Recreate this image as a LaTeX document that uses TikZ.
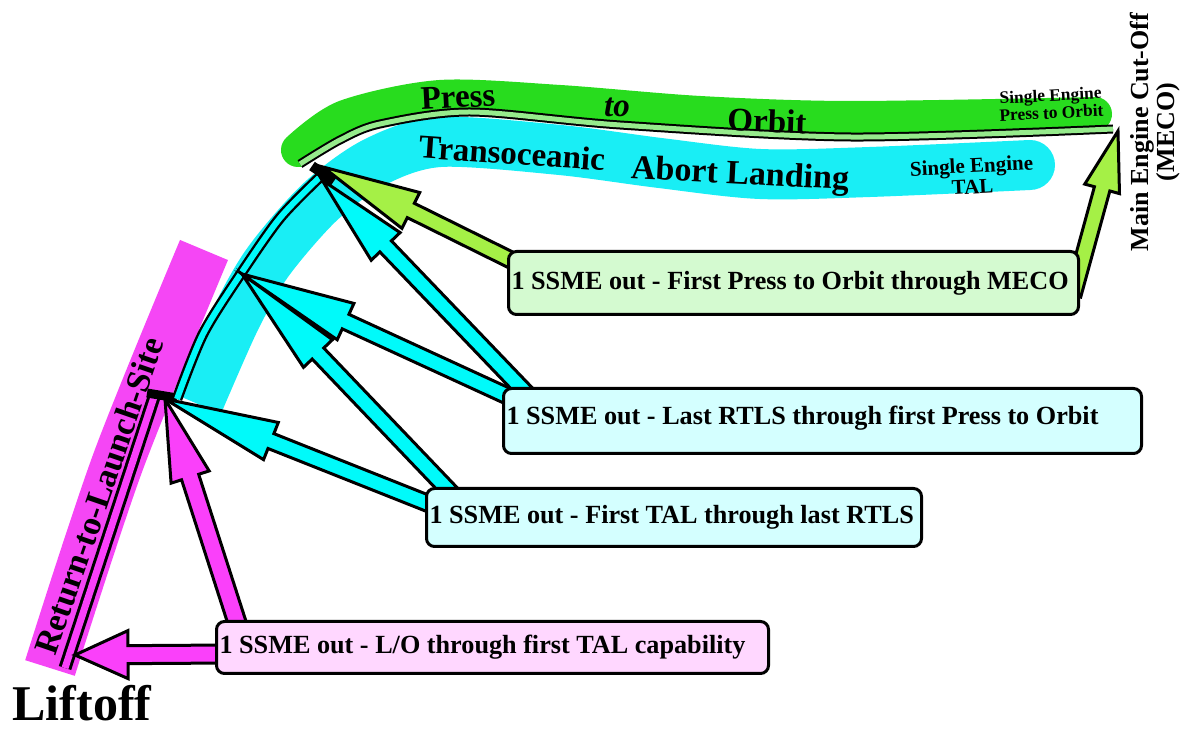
\documentclass[tikz,border=0pt]{standalone}
\usepackage{fontspec}
\setmainfont{Liberation Serif}
\usetikzlibrary{calc}
\pgfdeclarelayer{bg}
\pgfdeclarelayer{mid}
\pgfsetlayers{bg,mid,main}
\definecolor{magband}{RGB}{245,70,245}
\definecolor{magarrow}{RGB}{250,64,250}
\definecolor{cyanband}{RGB}{25,238,245}
\definecolor{cyanarrow}{RGB}{0,250,250}
\definecolor{greenband}{RGB}{40,220,30}
\definecolor{greenarrow}{RGB}{165,240,70}
\definecolor{greentube}{RGB}{150,235,140}
\definecolor{pinkbox}{RGB}{255,215,255}
\definecolor{cyanbox}{RGB}{212,255,255}
\definecolor{greenbox}{RGB}{212,250,208}
\newcommand\barrow[6]{%
  \coordinate (ba-h) at ($(#3)!#6!(#2)$);
  \filldraw[fill=#1, draw=black, line width=1.5pt, line join=miter]
    ($(#2)!#4!90:(#3)$) -- ($(ba-h)!#4!90:(#3)$) -- ($(ba-h)!#5!90:(#3)$) -- (#3)
    -- ($(ba-h)!#5!-90:(#3)$) -- ($(ba-h)!#4!-90:(#3)$) -- ($(#2)!#4!-90:(#3)$) -- cycle;
}
\newcommand\lbox[2]{\hbox to #1{#2\hfil}}
\begin{document}
\begin{tikzpicture}[x=0.5pt,y=-0.5pt,
  box/.style={draw=black, line width=1.5pt, rounded corners=4pt, anchor=north west,
    font=\bfseries\fontsize{13.1}{15}\selectfont, inner sep=1.5pt},
  band/.style={line cap=round, line join=round},
  lbl/.style={font=\bfseries\fontsize{#1}{#1}\selectfont, inner sep=0pt},
  lbl/.default=17]
\useasboundingbox (0,0) rectangle (1191,732);

% boxes
\node[box, fill=pinkbox, minimum height=26pt] (lo) at (215,620)
  {\lbox{273pt}{1 SSME out - L/O through first TAL capability}};
\node[box, fill=cyanbox, minimum height=29pt] (tal) at (425,487)
  {\lbox{244.5pt}{1 SSME out - First TAL through last RTLS}};
\node[box, fill=cyanbox, minimum height=32.5pt, text depth=6pt] (rtls) at (502,387)
  {\lbox{316pt}{1 SSME out - Last RTLS through first Press to Orbit}};
\node[box, fill=greenbox, minimum height=31.5pt] (press) at (507,250)
  {\lbox{282pt}{1 SSME out - First Press to Orbit through MECO}};

% tips
\coordinate (lift) at (75,655);
\coordinate (b1) at (165,399);
\coordinate (v) at (242,274);
\coordinate (b2g) at (323,167);
\coordinate (b2c) at (322,180);
\coordinate (meco) at (1118,131);
% starts
\coordinate (s1) at ($(lo.north west)+(15,34)$);
\coordinate (s2) at ($(lo.north west)+(25,12)$);
\coordinate (s3) at ($(tal.north west)+(12,20)$);
\coordinate (s4) at ($(tal.north west)+(30,10)$);
\coordinate (s5) at ($(rtls.north west)+(12,12)$);
\coordinate (s6) at ($(rtls.north west)+(28,10)$);
\coordinate (s7) at ($(press.north west)+(12,14)$);
\coordinate (s8) at ($(press.north east)+(-7,45)$);

\begin{pgfonlayer}{bg}
  % bands
  \draw[magband, line width=26pt, line cap=butt] plot[smooth] coordinates {(50,668) (118,462) (204,250)};
  \draw[cyanband, line width=25pt, line cap=butt, line join=round] plot[smooth] coordinates
    {(198,404) (235,320) (268,262) (320,202) (375,162) (440,142) (560,150) (660,163) (760,174) (870,172) (1030,165)};
  \fill[cyanband] (1030,165) circle[radius=25];
  \draw[greenband, line width=17pt, band] plot[smooth] coordinates
    {(298,150) (345,117) (440,97) (560,102) (700,113) (850,118) (1095,114)};
  % track
  \draw[line width=1.5pt, double=magarrow, double distance=3.5pt] (65,668) -- (155,394);
  \draw[line width=4.5pt] (147,393) -- (177,398);
  \draw[line width=1.2pt, double=cyanarrow, double distance=3pt] plot[smooth] coordinates
    {(177,399) (203,334) (240,275) (280,218) (320,177)};
  \draw[line width=5pt] (312,166) -- (334,181);
  \draw[line width=1pt, double=greentube, double distance=2.5pt] plot[smooth] coordinates
    {(300,164) (340,140) (380,124) (470,112) (620,125) (850,137) (1113,129)};
\end{pgfonlayer}

\begin{pgfonlayer}{mid}
  \barrow{magarrow}{s1}{lift}{4.5pt}{12pt}{26.5pt}
  \barrow{magarrow}{s2}{b1}{4.5pt}{10pt}{41pt}
  \barrow{cyanarrow}{s3}{b1}{4pt}{10pt}{57pt}
  \barrow{cyanarrow}{s4}{v}{4pt}{10pt}{55pt}
  \barrow{cyanarrow}{s5}{v}{4pt}{10pt}{57pt}
  \barrow{cyanarrow}{s6}{b2c}{4pt}{10pt}{46pt}
  \barrow{greenarrow}{s7}{b2g}{4pt}{10pt}{49pt}
  \barrow{greenarrow}{s8}{meco}{4pt}{9pt}{30pt}
\end{pgfonlayer}

% labels
\node[lbl=25] (liftoff) at (82,703) {Liftoff};
\node[lbl=17, rotate=71] (rtlslbl) at (99,496) {Return-to-Launch-Site};
\node[lbl=16.5, rotate=3] (presslbl) at (458,97) {Press};
\node[lbl=16.5, font=\bfseries\itshape\fontsize{16.5}{16.5}\selectfont] (tolbl) at (617,107) {to};
\node[lbl=16.5, rotate=-2] (orbitlbl) at (767,121) {Orbit};
\node[lbl=16.5, rotate=-4] (translbl) at (512,153) {Transoceanic};
\node[lbl=17, rotate=-3] (abortlbl) at (740,176) {Abort Landing};
\node[lbl=8.7, align=center, rotate=3] (septo) at (1051,104) {Single Engine\\Press to Orbit};
\node[lbl=10.5, align=center, rotate=3] (setal) at (972,176) {Single Engine\\TAL};
\node[lbl=13, align=center, rotate=90] (mecolbl) at (1155,132) {Main Engine Cut-Off\\(MECO)};
\end{tikzpicture}
\end{document}
